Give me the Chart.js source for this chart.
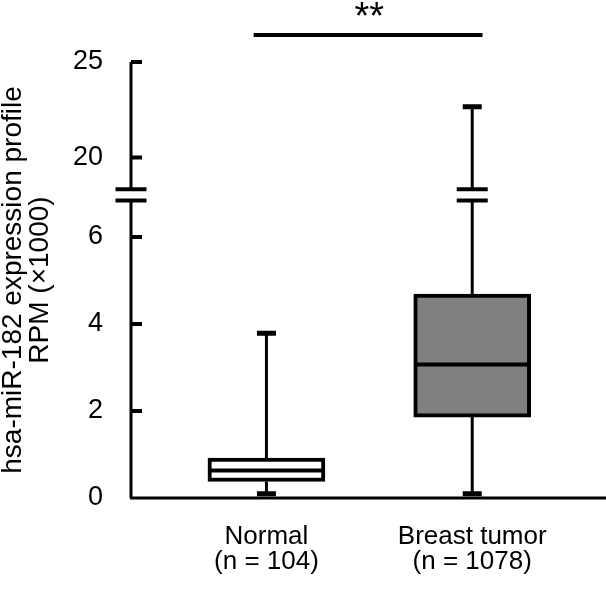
<!DOCTYPE html>
<html>
<head>
<meta charset="utf-8">
<script src="https://cdn.jsdelivr.net/npm/chart.js@4"></script>
<style>
  html, body { margin: 0; padding: 0; background: #fff; }
  #caixa { width: 606px; height: 589px; }
</style>
</head>
<body>
<div id="caixa"><canvas id="grafico"></canvas></div>
<script>
// dados (RPM x1000)
const grupos = ['Normal', 'Breast tumor'];
const amostras = ['(n = 104)', '(n = 1078)'];
const minimos = [0.05, 0.05];
const quartil1 = [0.38, 1.86];
const medianas = [0.63, 3.07];
const quartil3 = [0.92, 4.69];
const maximos = [3.79, 22.66];
const coresCaixa = ['#ffffff', '#808080'];
const ticksY = [0, 2, 4, 6, 20, 25];

// eixo quebrado: 0-7 normal, acima de 18.11 comprimido
const corteBaixo = 7;
const corteAlto = 18.11;
const fatorAlto = 0.4388;
function paraEixo(v) {
  return v <= corteBaixo ? v : corteBaixo + (v - corteAlto) * fatorAlto;
}
const quebraInf = 6.84;
const quebraSup = 7.1;

const fonte = "'Liberation Sans', Arial, sans-serif";

const desenhoCaixas = {
  id: 'desenhoCaixas',
  beforeDatasetsDraw(chart) {
    const { ctx, scales: { x, y } } = chart;
    ctx.save();
    ctx.strokeStyle = '#000';
    ctx.lineWidth = 3;
    grupos.forEach((g, i) => {
      const px = x.getPixelForValue(i + 1);
      const topo = y.getPixelForValue(paraEixo(maximos[i]));
      const base = y.getPixelForValue(paraEixo(minimos[i]));
      ctx.beginPath();
      if (maximos[i] > corteAlto) {
        ctx.moveTo(px, topo);
        ctx.lineTo(px, y.getPixelForValue(quebraSup));
        ctx.moveTo(px, y.getPixelForValue(quebraInf));
        ctx.lineTo(px, y.getPixelForValue(paraEixo(quartil3[i])));
      } else {
        ctx.moveTo(px, topo);
        ctx.lineTo(px, y.getPixelForValue(paraEixo(quartil3[i])));
      }
      ctx.moveTo(px, y.getPixelForValue(paraEixo(quartil1[i])));
      ctx.lineTo(px, base);
      ctx.stroke();
      // pontas
      ctx.lineWidth = 5;
      ctx.beginPath();
      ctx.moveTo(px - 9.5, topo); ctx.lineTo(px + 9.5, topo);
      ctx.moveTo(px - 9.5, base - 2); ctx.lineTo(px + 9.5, base - 2);
      ctx.stroke();
      ctx.lineWidth = 3;
      if (maximos[i] > corteAlto) {
        ctx.lineWidth = 4;
        ctx.beginPath();
        ctx.moveTo(px - 15.5, y.getPixelForValue(quebraSup)); ctx.lineTo(px + 15.5, y.getPixelForValue(quebraSup));
        ctx.moveTo(px - 15.5, y.getPixelForValue(quebraInf)); ctx.lineTo(px + 15.5, y.getPixelForValue(quebraInf));
        ctx.stroke();
        ctx.lineWidth = 3;
      }
    });
    ctx.restore();
  },
  afterDatasetsDraw(chart) {
    const { ctx, chartArea, scales: { x, y } } = chart;
    ctx.save();
    ctx.strokeStyle = '#000';
    // medianas
    ctx.lineWidth = 4;
    grupos.forEach((g, i) => {
      const px = x.getPixelForValue(i + 1);
      const py = y.getPixelForValue(paraEixo(medianas[i]));
      ctx.beginPath();
      ctx.moveTo(px - 56, py); ctx.lineTo(px + 56, py);
      ctx.stroke();
    });
    // eixo y com quebra
    const ex = chartArea.left + 1;
    ctx.lineWidth = 3;
    ctx.beginPath();
    ctx.moveTo(ex, chartArea.top);
    ctx.lineTo(ex, y.getPixelForValue(quebraSup));
    ctx.moveTo(ex, y.getPixelForValue(quebraInf));
    ctx.lineTo(ex, chartArea.bottom);
    ctx.stroke();
    ctx.lineWidth = 4;
    ctx.beginPath();
    ctx.moveTo(ex - 15.5, y.getPixelForValue(quebraSup)); ctx.lineTo(ex + 15.5, y.getPixelForValue(quebraSup));
    ctx.moveTo(ex - 15.5, y.getPixelForValue(quebraInf)); ctx.lineTo(ex + 15.5, y.getPixelForValue(quebraInf));
    ticksY.forEach(v => {
      if (v === 0) return;
      const py = y.getPixelForValue(paraEixo(v));
      ctx.moveTo(ex, py); ctx.lineTo(ex + 11, py);
    });
    ctx.stroke();
    // eixo x
    ctx.lineWidth = 3;
    ctx.beginPath();
    ctx.moveTo(chartArea.left, chartArea.bottom);
    ctx.lineTo(chartArea.right, chartArea.bottom);
    ctx.stroke();
    // significancia
    const by = y.getPixelForValue(paraEixo(25) + 0.62);
    ctx.lineWidth = 4;
    ctx.beginPath();
    ctx.moveTo(x.getPixelForValue(0.938), by);
    ctx.lineTo(x.getPixelForValue(2.05), by);
    ctx.stroke();
    ctx.fillStyle = '#000';
    ctx.font = '38px ' + fonte;
    ctx.textAlign = 'center';
    ctx.textBaseline = 'alphabetic';
    ctx.fillText('**', x.getPixelForValue(1.5), y.getPixelForValue(paraEixo(25) + 0.77));
    ctx.restore();
  }
};

const ctx = document.getElementById('grafico');
const grafico = new Chart(ctx, {
  type: 'bar',
  data: {
    datasets: [{
      data: grupos.map((g, i) => ({ x: i + 1, y: [paraEixo(quartil1[i]), paraEixo(quartil3[i])] })),
      backgroundColor: coresCaixa,
      borderColor: '#000',
      borderWidth: 4,
      borderSkipped: false,
      barThickness: 117
    }]
  },
  options: {
    responsive: true,
    maintainAspectRatio: false,
    animation: false,
    layout: { padding: { top: 62, right: 0, bottom: 0, left: 0 } },
    plugins: { legend: { display: false }, tooltip: { enabled: false } },
    scales: {
      x: {
        type: 'linear',
        offset: false,
        min: 0.337,
        max: 2.65,
        grid: { display: false, drawTicks: false, offset: false },
        border: { display: false },
        afterBuildTicks: s => { s.ticks = grupos.map((g, i) => ({ value: i + 1 })); },
        afterFit: s => { s.height = 91; },
        ticks: {
          autoSkip: false,
          maxRotation: 0,
          padding: 26,
          color: '#000',
          font: { family: fonte, size: 26, lineHeight: 0.97 },
          callback: (v, i) => [grupos[i], amostras[i]]
        }
      },
      y: {
        min: 0,
        max: paraEixo(25),
        grid: { display: false, drawTicks: false },
        border: { display: false },
        afterBuildTicks: s => { s.ticks = ticksY.map(v => ({ value: paraEixo(v) })); },
        afterFit: s => { s.width = 130; },
        ticks: {
          padding: 27,
          color: '#000',
          font: { family: fonte, size: 27 },
          callback: (v, i) => String(ticksY[i])
        },
        title: {
          display: true,
          text: ['hsa-miR-182 expression profile', 'RPM (\u00d71000)'],
          color: '#000',
          padding: { top: 0, bottom: 0 },
          font: { family: fonte, size: 28, lineHeight: 0.97 }
        }
      }
    }
  },
  plugins: [desenhoCaixas]
});
</script>
</body>
</html>
